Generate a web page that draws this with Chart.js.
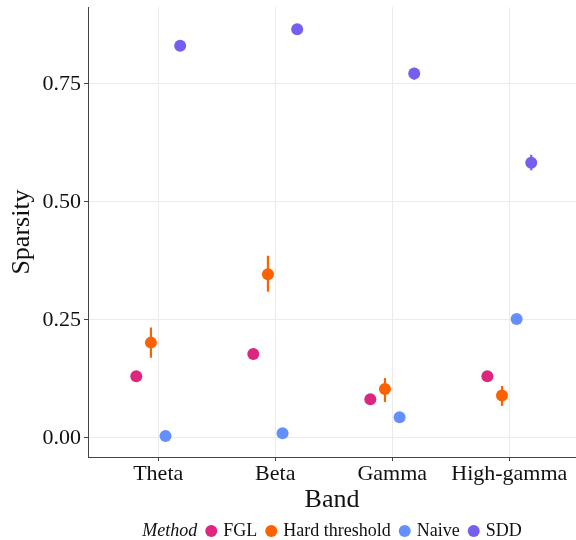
<!DOCTYPE html>
<html>
<head>
<meta charset="utf-8">
<script src="https://cdn.jsdelivr.net/npm/chart.js@4.4.1/dist/chart.umd.min.js"></script>
<style>
  body { margin: 0; background: #fff; }
</style>
</head>
<body>
<canvas id="chart" width="576" height="540"></canvas>
<script>
const categories = ['Theta', 'Beta', 'Gamma', 'High-gamma'];
const methods = ['FGL', 'Hard threshold', 'Naive', 'SDD'];
const colors = ['#DC267F', '#FE6100', '#648FFF', '#785EF0'];
const yTicks = [0, 0.25, 0.5, 0.75];

// point estimates per method (one value per band)
const fgl = [0.131, 0.178, 0.082, 0.131];
const hard = [0.202, 0.347, 0.104, 0.090];
const naive = [0.004, 0.010, 0.044, 0.252];
const sdd = [0.831, 0.866, 0.772, 0.583];

// interval ends (equal to the point where no bar is visible)
const fglLow = [0.131, 0.178, 0.082, 0.131];
const fglHigh = [0.131, 0.178, 0.082, 0.131];
const hardLow = [0.170, 0.310, 0.076, 0.068];
const hardHigh = [0.234, 0.386, 0.127, 0.110];
const naiveLow = [0.004, 0.010, 0.044, 0.252];
const naiveHigh = [0.004, 0.010, 0.044, 0.252];
const sddLow = [0.831, 0.866, 0.759, 0.567];
const sddHigh = [0.831, 0.866, 0.784, 0.600];

const values = [fgl, hard, naive, sdd];
const lows = [fglLow, hardLow, naiveLow, sddLow];
const highs = [fglHigh, hardHigh, naiveHigh, sddHigh];

const dodge = 0.125;
const serif = "'Liberation Serif', 'Times New Roman', serif";
const axisColor = '#444';

Chart.defaults.font.family = serif;
Chart.defaults.color = '#111';

const datasets = methods.map((m, j) => ({
  label: m,
  data: categories.map((c, i) => ({
    x: i + 1 + (j - 1.5) * dodge,
    y: values[j][i],
    lo: lows[j][i],
    hi: highs[j][i],
  })),
  backgroundColor: colors[j],
  borderColor: colors[j],
  pointRadius: 6,
  pointBorderWidth: 0,
}));

// vertical intervals, drawn under the points
const errorBars = {
  id: 'errorBars',
  beforeDatasetsDraw(c) {
    const { ctx, scales: { x, y } } = c;
    ctx.save();
    c.data.datasets.forEach((ds) => {
      ctx.strokeStyle = ds.borderColor;
      ctx.lineWidth = 2.2;
      ds.data.forEach((p) => {
        if (p.hi <= p.lo) return;
        const px = x.getPixelForValue(p.x);
        ctx.beginPath();
        ctx.moveTo(px, y.getPixelForValue(p.lo));
        ctx.lineTo(px, y.getPixelForValue(p.hi));
        ctx.stroke();
      });
    });
    ctx.restore();
  },
};

// ggplot-style legend on one line: "Method" then dot + label per method
const bottomLegend = {
  id: 'bottomLegend',
  afterDraw(c) {
    const { ctx, chartArea } = c;
    const cy = 531;
    const r = 6;
    const size = 18;
    ctx.save();
    ctx.textBaseline = 'middle';
    ctx.font = `italic ${size}px ${serif}`;
    const titleW = ctx.measureText('Method').width;
    ctx.font = `${size}px ${serif}`;
    const widths = methods.map((m) => ctx.measureText(m).width);
    const total = titleW + widths.reduce((a, w) => a + 8 + 2 * r + 6 + w, 0);
    let x = (chartArea.left + chartArea.right) / 2 - total / 2;
    ctx.fillStyle = '#111';
    ctx.font = `italic ${size}px ${serif}`;
    ctx.fillText('Method', x, cy);
    x += titleW;
    ctx.font = `${size}px ${serif}`;
    methods.forEach((m, j) => {
      x += 8 + r;
      ctx.fillStyle = colors[j];
      ctx.beginPath();
      ctx.arc(x, cy, r, 0, Math.PI * 2);
      ctx.fill();
      x += r + 6;
      ctx.fillStyle = '#111';
      ctx.fillText(m, x, cy);
      x += widths[j];
    });
    ctx.restore();
  },
};

// drop the extra room Chart.js keeps for overhanging tick labels
const noOverhang = (axis) => {
  axis.paddingLeft = 0;
  axis.paddingRight = 0;
  axis.paddingTop = 0;
  axis.paddingBottom = 0;
};

new Chart(document.getElementById('chart'), {
  type: 'scatter',
  data: { datasets },
  options: {
    responsive: false,
    animation: false,
    events: [],
    layout: { autoPadding: false, padding: { top: 7, right: 0, left: 0, bottom: 24 } },
    scales: {
      x: {
        type: 'linear',
        min: 0.4,
        max: 4.57,
        afterBuildTicks: (axis) => {
          axis.ticks = categories.map((c, i) => ({ value: i + 1 }));
        },
        afterFit: (axis) => { axis.height = 59; noOverhang(axis); },
        ticks: {
          callback: (v) => categories[v - 1],
          font: { size: 22 },
          color: '#111',
          padding: 0,
          maxRotation: 0,
        },
        grid: { color: '#ebebeb', lineWidth: 1, tickLength: 4, tickColor: axisColor },
        border: { color: axisColor, width: 1 },
        title: { display: true, text: 'Band', font: { size: 26 }, color: '#111', padding: { top: 0, bottom: 0 } },
      },
      y: {
        min: -0.0403,
        max: 0.913,
        afterBuildTicks: (axis) => {
          axis.ticks = yTicks.map((v) => ({ value: v }));
        },
        afterFit: (axis) => { axis.width = 88; noOverhang(axis); },
        ticks: {
          callback: (v) => v.toFixed(2),
          font: { size: 22 },
          color: '#111',
          padding: 3,
        },
        grid: { color: '#ebebeb', lineWidth: 1, tickLength: 4, tickColor: axisColor },
        border: { color: axisColor, width: 1 },
        title: { display: true, text: 'Sparsity', font: { size: 26 }, color: '#111', padding: { top: 7, bottom: 0 } },
      },
    },
    plugins: {
      legend: { display: false },
      tooltip: { enabled: false },
    },
  },
  plugins: [errorBars, bottomLegend],
});
</script>
</body>
</html>
